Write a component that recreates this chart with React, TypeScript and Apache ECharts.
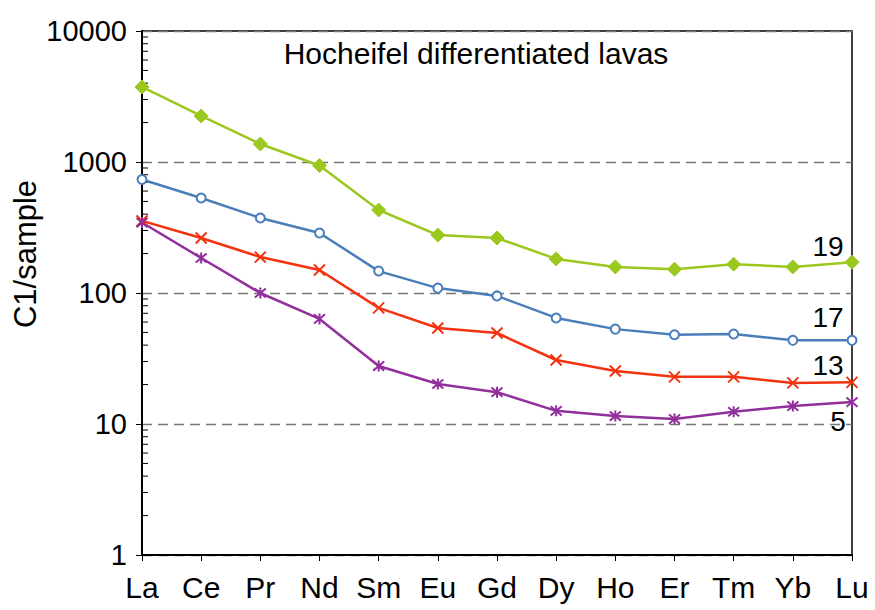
import React, { useEffect, useRef } from "react";
import * as echarts from "echarts";

const elements = ["La", "Ce", "Pr", "Nd", "Sm", "Eu", "Gd", "Dy", "Ho", "Er", "Tm", "Yb", "Lu"];
const s19 = [3740, 2245, 1372, 940, 430, 277, 263, 182, 158, 152, 166, 158, 172];
const s17 = [735, 531, 374, 287, 147, 109, 95, 64.5, 53, 48, 48.6, 43.5, 43.5];
const s13 = [355, 263, 188, 150, 77, 54, 49.5, 30.8, 25.4, 22.9, 22.9, 20.6, 20.8];
const s5 = [345, 185, 100, 63.4, 27.7, 20.2, 17.5, 12.6, 11.5, 10.9, 12.4, 13.7, 14.7];
const yTicks = [1, 10, 100, 1000, 10000];
const minorMultipliers = [2, 3, 4, 5, 6, 7, 8, 9];

const FONT = "Arial, 'Liberation Sans', sans-serif";

function withEndLabel(values: number[], text: string, offset: number[]) {
  return values.map((v, i) =>
    i === values.length - 1
      ? {
          value: v,
          label: {
            show: true,
            formatter: text,
            position: "inside",
            offset,
            fontSize: 28,
            fontFamily: FONT,
            color: "#000",
            align: "center",
            verticalAlign: "middle",
          },
        }
      : v
  );
}

export default function App() {
  const ref = useRef<HTMLDivElement>(null);
  useEffect(() => {
    if (!ref.current) return;
    const chart = echarts.init(ref.current, null, { renderer: "svg" });
    const minorData: number[][] = [];
    for (let d = 0; d < yTicks.length - 1; d++) {
      for (const m of minorMultipliers) minorData.push([0, yTicks[d] * m]);
    }
    const lineBase = (color: string) => ({
      type: "line",
      lineStyle: { color, width: 2.5 },
      itemStyle: { color, borderColor: color },
      z: 3,
    });
    chart.setOption({
      animation: false,
      backgroundColor: "#fff",
      textStyle: { fontFamily: FONT },
      grid: {
        left: 142,
        right: 23,
        top: 31,
        bottom: 55,
        show: true,
        borderColor: "#000",
        borderWidth: 1.5,
        backgroundColor: "transparent",
      },
      graphic: [
        {
          type: "text",
          x: 476,
          y: 53,
          style: {
            text: "Hocheifel differentiated lavas",
            fontSize: 30,
            fontFamily: FONT,
            fill: "#000",
            textAlign: "center",
            textVerticalAlign: "middle",
          },
        },
        {
          type: "text",
          x: 25,
          y: 254,
          rotation: Math.PI / 2,
          style: {
            text: "C1/sample",
            fontSize: 31,
            fontFamily: FONT,
            fill: "#000",
            textAlign: "center",
            textVerticalAlign: "middle",
          },
        },
      ],
      xAxis: {
        type: "category",
        data: elements,
        boundaryGap: false,
        axisLine: { lineStyle: { color: "#000", width: 2 } },
        axisTick: { show: true, length: 6, lineStyle: { color: "#000", width: 1 } },
        axisLabel: { fontSize: 30, fontFamily: FONT, color: "#000", margin: 17 },
        splitLine: { show: false },
      },
      yAxis: {
        type: "log",
        logBase: 10,
        min: 1,
        max: 10000,
        axisLine: { show: true, lineStyle: { color: "#000", width: 2 } },
        axisTick: { show: true, length: 6, lineStyle: { color: "#000", width: 1 } },
        axisLabel: {
          fontSize: 29,
          fontFamily: FONT,
          color: "#000",
          margin: 15,
          formatter: (v: number) => String(Math.round(v)),
        },
        splitLine: { show: true, lineStyle: { color: "#777", type: [10, 6], width: 1.4 } },
      },
      series: [
        {
          type: "custom",
          silent: true,
          z: 2,
          data: minorData,
          renderItem: (params: any, api: any) => {
            const p = api.coord([api.value(0), api.value(1)]);
            return {
              type: "line",
              shape: { x1: p[0], y1: p[1], x2: p[0] + 6, y2: p[1] },
              style: { stroke: "#000", lineWidth: 1 },
            };
          },
        },
        {
          ...lineBase("#9BC81E"),
          name: "19",
          symbol: "diamond",
          symbolSize: 14,
          data: withEndLabel(s19, "19", [-24, -16]),
        },
        {
          ...lineBase("#4A7EBB"),
          name: "17",
          symbol: "emptyCircle",
          symbolSize: 9,
          itemStyle: { color: "#4A7EBB", borderColor: "#4A7EBB", borderWidth: 2 },
          data: withEndLabel(s17, "17", [-24, -23]),
        },
        {
          ...lineBase("#F5320F"),
          name: "13",
          symbol: "path://M0,0L10,10M10,0L0,10",
          symbolSize: 11,
          itemStyle: { color: "#F5320F", borderColor: "#F5320F", borderWidth: 2 },
          data: withEndLabel(s13, "13", [-24, -17]),
        },
        {
          ...lineBase("#912F9C"),
          name: "5",
          symbol: "path://M0,0L10,10M10,0L0,10M5,-1L5,11",
          symbolSize: 11,
          itemStyle: { color: "#912F9C", borderColor: "#912F9C", borderWidth: 2 },
          data: withEndLabel(s5, "5", [-14, 19]),
        },
      ],
    });
    return () => chart.dispose();
  }, []);
  return <div ref={ref} style={{ width: 875, height: 610, position: "absolute", left: 0, top: 0 }} />;
}
